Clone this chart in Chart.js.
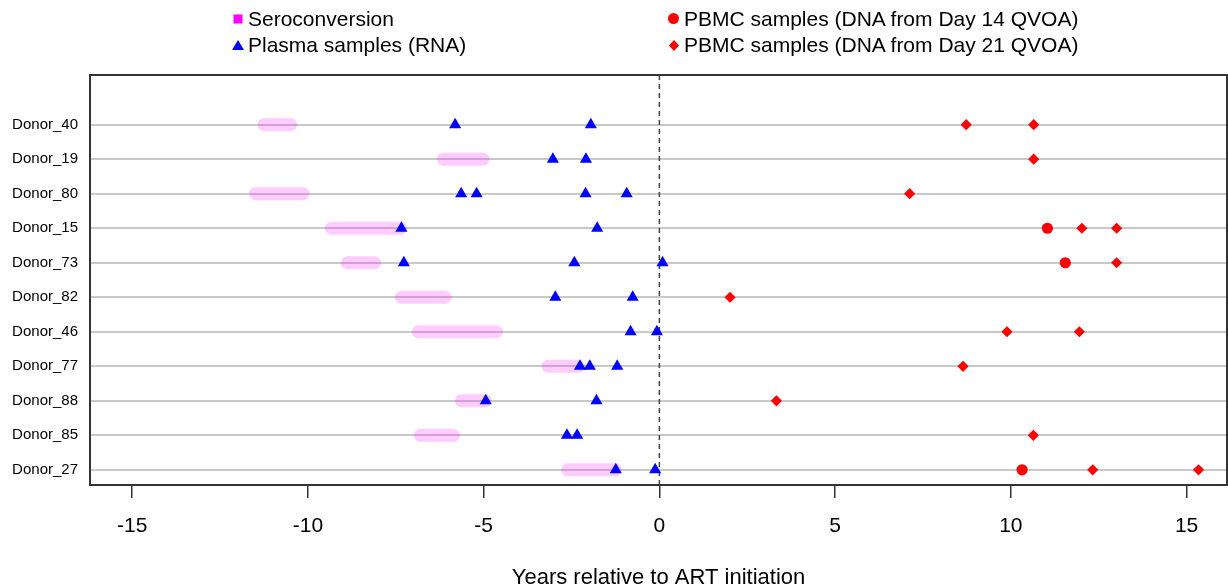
<!DOCTYPE html>
<html>
<head>
<meta charset="utf-8">
<script src="https://cdn.jsdelivr.net/npm/chart.js@4.4.1/dist/chart.umd.min.js"></script>
<style>
  html, body { margin: 0; padding: 0; background: #fff; overflow: hidden; }
  #wrap { position: relative; width: 1228px; height: 587px; }
  #grafico { position: absolute; left: 0; top: 0; }
  #legend { position: absolute; left: 0; top: 0; width: 1228px; height: 70px; font-family: 'Liberation Sans', Arial, sans-serif; font-size: 21px; color: #000; }
  .item { position: absolute; height: 26px; line-height: 26px; white-space: nowrap; }
  .item svg { position: absolute; }
</style>
</head>
<body>
<div id="wrap">
  <canvas id="grafico" width="1228" height="587"></canvas>
  <div id="legend"></div>
</div>
<script>
// donors from top to bottom
const donors = ['Donor_40', 'Donor_19', 'Donor_80', 'Donor_15', 'Donor_73', 'Donor_82',
                'Donor_46', 'Donor_77', 'Donor_88', 'Donor_85', 'Donor_27'];

// seroconversion window (years relative to ART)
const seroStart = [-11.25, -6.14, -11.49, -9.33, -8.88, -7.34, -6.86, -3.17, -5.63, -6.80, -2.61];
const seroEnd   = [-10.49, -5.02, -10.14, -7.37, -8.10, -6.09, -4.63, -2.30, -4.96, -5.86, -1.26];

const plasmaRna = [
    [-5.81, -1.95],
    [-3.03, -2.09],
    [-5.64, -5.20, -2.10, -0.93],
    [-7.34, -1.77],
    [-7.27, -2.42, 0.09],
    [-2.96, -0.76],
    [-0.82, -0.07],
    [-2.26, -1.98, -1.20],
    [-4.94, -1.79],
    [-2.63, -2.34],
    [-1.24, -0.12]
];

const pbmcDay14 = [[], [], [], [11.04], [11.55], [], [], [], [], [], [10.32]];

const pbmcDay21 = [
    [8.73, 10.65],
    [10.65],
    [7.12],
    [12.02, 13.01],
    [13.01],
    [2.01],
    [9.89, 11.95],
    [8.64],
    [3.33],
    [10.64],
    [12.33, 15.34]
];

const xTicks = [-15, -10, -5, 0, 5, 10, 15];
const xTitle = 'Years relative to ART initiation';

const legendItems = [
    { label: 'Seroconversion', shape: 'square', color: '#ff00ff', col: 0, row: 0 },
    { label: 'Plasma samples (RNA)', shape: 'triangle', color: '#0000ff', col: 0, row: 1 },
    { label: 'PBMC samples (DNA from Day 14 QVOA)', shape: 'circle', color: '#ff0000', col: 1, row: 0 },
    { label: 'PBMC samples (DNA from Day 21 QVOA)', shape: 'diamond', color: '#ff0000', col: 1, row: 1 }
];

const fuente = "'Liberation Sans', Arial, sans-serif";
const rowY = i => donors.length - i;

const puntos = (lista) => {
    let out = [];
    lista.forEach((vals, i) => vals.forEach(v => out.push({ x: v, y: rowY(i) })));
    return out;
};

let datasets = [];
donors.forEach((d, i) => {
    datasets.push({
        label: 'sero ' + d,
        data: [{ x: seroStart[i], y: rowY(i) }, { x: seroEnd[i], y: rowY(i) }],
        showLine: true,
        borderColor: 'rgba(255,0,255,0.2)',
        borderWidth: 13,
        borderCapStyle: 'round',
        pointRadius: 0,
        order: 3
    });
});
datasets.push({
    label: 'Plasma samples (RNA)',
    data: puntos(plasmaRna),
    pointStyle: 'triangle',
    pointRadius: 7,
    backgroundColor: '#0000ff',
    borderWidth: 0,
    order: 2
});
datasets.push({
    label: 'PBMC samples (DNA from Day 14 QVOA)',
    data: puntos(pbmcDay14),
    pointStyle: 'circle',
    pointRadius: 5.6,
    backgroundColor: '#ff0000',
    borderWidth: 0,
    order: 1
});
datasets.push({
    label: 'PBMC samples (DNA from Day 21 QVOA)',
    data: puntos(pbmcDay21),
    pointStyle: 'rectRot',
    pointRadius: 5.6,
    backgroundColor: '#ff0000',
    borderWidth: 0,
    order: 1
});

// dashed line at ART initiation
const lineaCero = {
    id: 'lineaCero',
    beforeDatasetsDraw(chart) {
        const { ctx, chartArea, scales } = chart;
        const x = scales.x.getPixelForValue(0);
        ctx.save();
        ctx.strokeStyle = '#444';
        ctx.lineWidth = 1.5;
        ctx.setLineDash([5, 4]);
        ctx.beginPath();
        ctx.moveTo(x, chartArea.top);
        ctx.lineTo(x, chartArea.bottom);
        ctx.stroke();
        ctx.restore();
    }
};

// box around the plot
const marco = {
    id: 'marco',
    afterDatasetsDraw(chart) {
        const { ctx, chartArea } = chart;
        ctx.save();
        ctx.strokeStyle = '#333';
        ctx.lineWidth = 2;
        ctx.strokeRect(chartArea.left, chartArea.top, chartArea.right - chartArea.left, chartArea.bottom - chartArea.top);
        ctx.restore();
    }
};

const grafico = new Chart(document.getElementById('grafico').getContext('2d'), {
    type: 'scatter',
    data: { datasets: datasets },
    options: {
        responsive: false,
        animation: false,
        events: [],
        layout: { autoPadding: false, padding: { top: 75, right: 1, left: 0, bottom: 0 } },
        plugins: { legend: { display: false }, tooltip: { enabled: false } },
        scales: {
            x: {
                type: 'linear',
                min: -16.2,
                max: 16.15,
                afterBuildTicks: s => { s.ticks = xTicks.map(v => ({ value: v })); },
                afterFit: s => { s.height = 102; s.paddingLeft = 0; s.paddingRight = 0; },
                border: { display: false },
                grid: { drawOnChartArea: false, drawTicks: true, tickLength: 13, color: '#333', lineWidth: 1.5 },
                ticks: {
                    font: { family: fuente, size: 21 },
                    color: '#000',
                    padding: 16,
                    maxRotation: 0,
                    autoSkip: false,
                    callback: v => String(v)
                },
                title: {
                    display: true,
                    text: xTitle,
                    color: '#000',
                    font: { family: fuente, size: 22, lineHeight: 0.85 },
                    padding: 0
                }
            },
            y: {
                type: 'linear',
                min: 0.56,
                max: 12.44,
                afterBuildTicks: s => { s.ticks = donors.map((d, i) => ({ value: rowY(i) })); },
                afterFit: s => { s.width = 90; },
                border: { display: false },
                grid: { color: 'rgb(200,200,200)', lineWidth: 2, drawTicks: false },
                ticks: {
                    font: { family: fuente, size: 15 },
                    color: '#000',
                    padding: 12,
                    autoSkip: false,
                    callback: v => donors[donors.length - Math.round(v)]
                }
            }
        }
    },
    plugins: [lineaCero, marco]
});

// legend in two columns
const marcador = (shape, color) => {
    if (shape === 'square') return `<svg width="10" height="10" style="left:-15px;top:8px"><rect x="0.5" y="0.5" width="9" height="9" fill="${color}"/></svg>`;
    if (shape === 'triangle') return `<svg width="12" height="10" style="left:-16px;top:8px"><polygon points="6,0 12,10 0,10" fill="${color}"/></svg>`;
    if (shape === 'circle') return `<svg width="11" height="11" style="left:-16px;top:7px"><circle cx="5.5" cy="5.5" r="5.5" fill="${color}"/></svg>`;
    return `<svg width="10" height="11" style="left:-15px;top:8px"><polygon points="5,0 10,5.5 5,11 0,5.5" fill="${color}"/></svg>`;
};

const colX = [248, 684];
const filaY = [6, 32];
const legendDiv = document.getElementById('legend');
legendItems.forEach(it => {
    let div = document.createElement('div');
    div.className = 'item';
    div.style.left = colX[it.col] + 'px';
    div.style.top = filaY[it.row] + 'px';
    div.innerHTML = marcador(it.shape, it.color) + '<span>' + it.label + '</span>';
    legendDiv.appendChild(div);
});
</script>
</body>
</html>
